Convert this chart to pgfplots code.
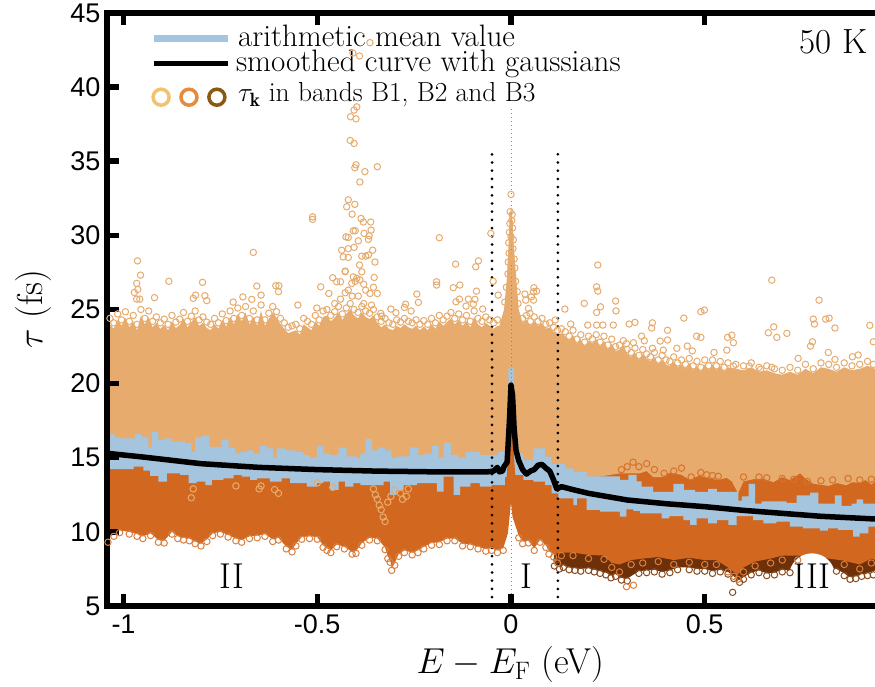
\RequirePackage{fix-cm}
\documentclass[border=0pt]{standalone}
\usepackage{fontspec}
\usepackage{pgfplots}
\pgfplotsset{compat=1.18}
\newfontfamily\helv{Liberation Sans}
\definecolor{bone}{HTML}{E6AB6D}
\definecolor{btwo}{HTML}{D26820}
\definecolor{bthree}{HTML}{6E3008}
\definecolor{cthree}{HTML}{8A4A1C}
\definecolor{meanblue}{HTML}{A5C4DE}
\definecolor{lgone}{HTML}{F0C46E}
\definecolor{lgtwo}{HTML}{E68A3E}
\definecolor{lgthree}{HTML}{8A5A14}
\newcommand{\lab}{\fontsize{31}{33}\selectfont}
\begin{document}
\begin{tikzpicture}
\path[use as bounding box] (-107pt,-81pt) rectangle (768pt,606pt);
\begin{axis}[
  at={(0pt,0pt)},anchor=south west,
  scale only axis,width=768pt,height=593pt,
  xmin=-1.0426,xmax=0.9394,ymin=5,ymax=45,
  axis x line=box,axis y line=left,
  axis line style={-,line width=6pt,line cap=rect},
  axis on top,
  tick align=inside,
  tick style={black,line width=5.5pt},
  major tick length=12pt,
  xtick={-1,-0.5,0,0.5},xticklabels={-1,-0.5,0,0.5},
  ytick={5,10,15,20,25,30,35,40,45},yticklabels={5,10,15,20,25,30,35,40,45},
  tick label style={font=\helv\fontsize{27}{29}\selectfont},
  xticklabel style={yshift=-5pt},
  yticklabel style={xshift=-3pt},
  xlabel={$E-E_{\mathrm{F}}$ (eV)},
  ylabel={$\tau$ (fs)},
  xlabel style={at={(axis description cs:0.525,-0.0995)},anchor=center,font=\fontsize{36}{38}\selectfont},
  ylabel style={at={(axis description cs:-0.096,0.5)},anchor=center,font=\fontsize{36}{38}\selectfont},
  every axis plot/.append style={forget plot},
]
% B3 band
\addplot[fill=bthree,draw=none] table {
0.11 10
0.9394 10
0.9394 7.4
0.92 7.2
0.905 7.15
0.89 7.0
0.875 6.95
0.86 7.2
0.84 7.5
0.80 7.6
0.76 7.65
0.72 7.4
0.70 7.45
0.68 7.25
0.66 7.2
0.64 7.4
0.62 7.25
0.60 6.95
0.59 6.75
0.575 7.0
0.56 7.3
0.54 7.45
0.52 7.35
0.5 7.5
0.48 7.5
0.46 7.6
0.43 7.6
0.41 7.4
0.39 7.3
0.37 7.45
0.35 7.4
0.33 7.35
0.3 6.85
0.285 6.9
0.27 7.15
0.258 7.05
0.245 7.25
0.23 7.35
0.215 7.45
0.2 7.55
0.18 7.5
0.165 7.55
0.15 7.6
0.135 7.75
0.125 7.65
0.112 7.85
} -- cycle;
\addplot[only marks,mark=o,mark size=3.2pt,mark options={draw=cthree,line width=1pt}] table {
0.112 7.7
0.118 8.1
0.125 7.5
0.135 7.6
0.15 7.45
0.165 7.4
0.18 7.35
0.2 7.4
0.215 7.3
0.23 7.2
0.245 7.1
0.258 6.9
0.27 7.0
0.285 6.75
0.3 6.7
0.33 7.2
0.35 7.25
0.37 7.3
0.39 7.15
0.41 7.25
0.43 7.45
0.46 7.45
0.48 7.35
0.5 7.35
0.52 7.2
0.54 7.3
0.56 7.15
0.575 6.85
0.59 6.6
0.60 6.8
0.62 7.1
0.64 7.25
0.66 7.05
0.68 7.1
0.70 7.3
0.72 7.25
0.84 7.35
0.86 7.05
0.875 6.8
0.89 6.85
0.905 7.0
0.92 7.05
0.935 7.1
0.572 5.92
};
% B2 band
\addplot[fill=btwo,draw=none] table {
-1.0426 16
0.9394 16
0.9394 8.1
0.93 8.2
0.90 7.8
0.86 8.05
0.82 8.2
0.78 8.3
0.74 8.4
0.70 8.4
0.67 8.2
0.63 8.0
0.60 7.6
0.585 7.1
0.575 7.3
0.56 7.6
0.53 8.1
0.50 8.1
0.46 8.25
0.42 8.1
0.38 8.3
0.34 8.2
0.31 8.1
0.28 7.8
0.26 7.9
0.24 8.4
0.2 8.45
0.16 8.6
0.13 8.6
0.11 8.5
0.098 8.7
0.09 9.1
0.075 9.45
0.06 8.9
0.045 9.4
0.03 9.35
0.02 9.75
0.013 10.3
0.004 11.0
0 12
-0.003 11.2
-0.008 9.9
-0.02 8.9
-0.035 8.75
-0.05 8.9
-0.065 8.85
-0.085 9.0
-0.105 9.15
-0.125 9.2
-0.145 9.55
-0.165 9.55
-0.185 9.3
-0.205 9.25
-0.225 9.0
-0.24 8.75
-0.255 8.6
-0.275 8.75
-0.29 8.5
-0.30 7.9
-0.308 7.55
-0.312 8.1
-0.318 8.35
-0.325 8.95
-0.345 9.55
-0.365 9.6
-0.385 9.25
-0.40 8.7
-0.41 8.65
-0.43 9.0
-0.45 9.15
-0.465 8.75
-0.475 8.9
-0.485 9.1
-0.50 9.65
-0.52 9.7
-0.54 9.65
-0.555 9.2
-0.565 8.8
-0.58 9.0
-0.60 9.6
-0.615 9.5
-0.635 9.85
-0.655 9.75
-0.675 9.7
-0.695 9.45
-0.71 9.55
-0.73 9.8
-0.75 10
-0.77 9.9
-0.785 9.5
-0.80 9.2
-0.815 9.35
-0.83 9.55
-0.845 9.6
-0.86 9.7
-0.875 10
-0.895 9.4
-0.91 9.45
-0.93 9.9
-0.95 9.7
-0.965 9.85
-0.985 10
-1.01 10.1
-1.025 9.85
-1.0426 9.45
} -- cycle;
\addplot[only marks,mark=o,mark size=3.2pt,mark options={draw=btwo!85!white,line width=1pt}] table {
-1.04 9.3
-1.025 9.7
-1.01 9.95
-0.985 9.85
-0.965 9.7
-0.95 9.55
-0.93 9.75
-0.91 9.3
-0.895 9.25
-0.875 9.85
-0.86 9.55
-0.845 9.45
-0.83 9.4
-0.815 9.2
-0.80 9.05
-0.785 9.35
-0.77 9.75
-0.75 9.85
-0.73 9.65
-0.71 9.4
-0.695 9.3
-0.675 9.55
-0.655 9.6
-0.635 9.7
-0.615 9.35
-0.60 9.45
-0.58 8.85
-0.565 8.65
-0.555 9.05
-0.54 9.5
-0.52 9.55
-0.50 9.5
-0.485 8.95
-0.475 8.75
-0.465 8.6
-0.45 9.0
-0.43 8.85
-0.41 8.5
-0.40 8.55
-0.385 9.1
-0.365 9.45
-0.345 9.4
-0.325 8.8
-0.318 8.2
-0.312 7.95
-0.308 7.4
-0.30 7.75
-0.29 8.35
-0.275 8.6
-0.255 8.45
-0.24 8.6
-0.225 8.85
-0.205 9.1
-0.185 9.15
-0.165 9.4
-0.145 9.4
-0.125 9.05
-0.105 9.0
-0.085 8.85
-0.065 8.7
-0.05 8.75
-0.035 8.6
-0.02 8.75
0.02 9.6
0.03 9.2
0.045 9.25
0.06 8.75
0.075 9.3
0.09 8.95
0.098 8.5
0.11 8.3
0.12 7.9
0.13 8.4
0.16 8.4
0.2 8.2
0.24 8.15
0.26 7.6
0.28 7.3
0.298 6.3
0.316 6.4
0.31 7.8
0.34 7.9
0.38 8.0
0.42 7.8
0.46 7.95
0.50 7.8
0.53 7.8
0.56 7.3
0.575 7.0
0.585 6.8
0.60 7.3
0.63 7.7
0.67 7.9
0.70 8.1
0.74 8.1
0.86 7.8
0.90 7.5
0.93 7.9
};
% B1 band
\addplot[fill=bone,draw=none] table {
-1.0426 23.8
-1.035 24.0
-1.025 23.7
-1.015 24.3
-1.005 23.9
-0.995 24.45
-0.985 23.8
-0.975 24.2
-0.965 23.6
-0.955 24.6
-0.945 24.0
-0.935 24.5
-0.925 23.8
-0.915 24.1
-0.905 23.7
-0.895 23.95
-0.885 23.6
-0.875 24.2
-0.865 23.75
-0.855 23.95
-0.845 24.4
-0.835 23.8
-0.825 24.15
-0.815 24.5
-0.805 23.9
-0.795 24.1
-0.785 23.75
-0.775 23.6
-0.765 24.0
-0.755 23.7
-0.745 24.3
-0.735 23.85
-0.725 24.5
-0.715 24.0
-0.705 24.7
-0.695 24.2
-0.685 24.8
-0.675 24.0
-0.665 24.5
-0.655 23.9
-0.645 24.9
-0.635 23.9
-0.625 24.35
-0.615 24.8
-0.605 24.45
-0.595 24.0
-0.585 23.7
-0.575 23.4
-0.565 23.5
-0.555 23.6
-0.545 23.3
-0.535 24.0
-0.525 23.8
-0.515 23.6
-0.505 24.2
-0.495 23.9
-0.485 24.5
-0.475 24.6
-0.465 24.2
-0.455 24.45
-0.445 24.8
-0.435 24.3
-0.425 24.7
-0.415 25.0
-0.405 24.6
-0.395 24.4
-0.385 24.8
-0.375 24.5
-0.365 24.35
-0.355 24.6
-0.345 24.1
-0.335 23.8
-0.325 24.0
-0.315 23.7
-0.305 23.6
-0.295 23.9
-0.285 23.75
-0.275 24.0
-0.265 23.8
-0.255 23.7
-0.245 23.9
-0.235 23.6
-0.225 23.85
-0.215 23.6
-0.205 24.0
-0.195 23.7
-0.185 24.2
-0.175 23.9
-0.165 24.15
-0.155 24.4
-0.145 24.0
-0.135 24.3
-0.125 23.9
-0.115 24.2
-0.105 23.8
-0.095 24.5
-0.085 24.0
-0.075 23.8
-0.065 24.1
-0.055 23.9
-0.045 23.7
-0.035 23.9
-0.03 23.9
-0.018 25
-0.011 27
-0.007 29
-0.004 31
0 32
0.004 31
0.008 29
0.014 27
0.02 25
0.03 24.1
0.04 24.3
0.05 23.9
0.06 24.2
0.07 23.9
0.08 24.1
0.09 23.7
0.10 23.8
0.11 23.5
0.12 23.3
0.13 23.4
0.14 23.2
0.15 22.9
0.16 23.3
0.17 22.7
0.18 23.0
0.19 22.5
0.20 22.9
0.21 22.7
0.22 23.0
0.23 22.5
0.24 22.9
0.25 22.3
0.26 22.7
0.27 22.2
0.28 22.3
0.29 22.6
0.30 22.0
0.31 21.8
0.32 22.1
0.33 21.6
0.34 22.0
0.35 21.7
0.36 21.5
0.37 21.8
0.38 21.3
0.39 21.6
0.40 21.3
0.41 21.2
0.42 21.5
0.43 21.1
0.44 21.3
0.45 21.0
0.46 21.4
0.47 20.9
0.48 21.2
0.49 20.8
0.50 21.3
0.51 20.9
0.52 21.3
0.53 20.9
0.54 21.2
0.55 20.8
0.56 21.1
0.58 21.0
0.60 20.9
0.62 21.1
0.64 20.8
0.66 20.9
0.68 20.7
0.70 20.6
0.72 20.8
0.74 20.6
0.76 21.0
0.78 20.7
0.80 21.1
0.82 21.0
0.84 20.8
0.86 21.1
0.88 20.9
0.90 21.0
0.92 21.2
0.9394 21.0
0.9394 13.4
0.93 13.2
0.915 13.5
0.90 13.3
0.881 13.35
0.865 13.15
0.84 13.3
0.82 13.1
0.78 13.25
0.76 13.6
0.746 13.95
0.72 13.5
0.70 13.7
0.677 13.35
0.65 13.6
0.625 13.55
0.60 13.4
0.586 12.6
0.57 13.4
0.557 13.65
0.535 13.5
0.505 13.65
0.485 13.8
0.462 13.5
0.44 13.85
0.41 14
0.39 13.7
0.367 13.7
0.35 14.1
0.333 13.95
0.281 13.95
0.2 13.6
0.12 14
0.05 14
-0.5 14.5
-1.0426 15
} -- cycle;
% dark-orange circles over the lower edge of the B1 band
\addplot[only marks,mark=o,mark size=3.2pt,mark options={draw=btwo!85!bone,line width=1pt}] table {
0.285 14.2
0.3 14.4
0.315 14.7
0.33 14.4
0.35 14.6
0.37 14.2
0.395 13.95
0.42 14.1
0.44 14.3
0.465 13.7
0.49 14
0.505 13.85
0.52 13.8
0.535 13.75
0.6 13.7
0.64 13.7
0.66 13.65
0.70 13.6
0.73 13.55
0.765 13.4
0.80 13.45
0.83 13.5
0.87 13.6
0.90 13.5
0.93 13.55
};
% B1 circles
\addplot[only marks,mark=o,mark size=3.2pt,mark options={draw=bone,line width=1pt}] table {
-0.964 28.28
-0.956 27.32
-0.966 26.76
-0.972 26.15
-0.963 26.35
-0.966 25.7
-0.958 25.7
-0.92 25.8
-0.883 26.9
-0.796 26.83
-0.665 28.85
-0.656 26.58
-0.607 26.6
-0.599 26.6
-0.6 26.2
-0.82 25.75
-0.814 25.97
-0.79 25.93
-0.785 25.6
-0.717 25.5
-0.692 25.85
-0.669 25.68
-0.645 25.97
-0.55 25.3
-0.491 26.53
-0.47 26.08
-0.501 25.1
-0.428 27.55
-0.364 43
-0.391 42.1
-0.408 42.3
-0.398 38.67
-0.405 38.45
-0.414 38
-0.4 37.86
-0.415 36.4
-0.405 36.2
-0.4 34.76
-0.403 34.56
-0.377 34.3
-0.345 34.63
-0.39 33.6
-0.512 31.25
-0.512 31.08
-0.42 32.4
-0.424 31.93
-0.403 32.09
-0.41 31.43
-0.387 31.14
-0.381 30.9
-0.362 30.9
-0.407 30.31
-0.402 30.31
-0.361 30.35
-0.379 30.13
-0.366 29.97
-0.368 29.73
-0.426 29.9
-0.42 29.86
-0.394 29.63
-0.405 29.19
-0.437 29
-0.357 29
-0.42 29.1
-0.433 28.55
-0.42 28.51
-0.385 28.6
-0.368 28.67
-0.351 28.2
-0.375 28.6
-0.391 28
-0.385 27.54
-0.428 27.59
-0.353 27.16
-0.46 27.14
-0.45 26.87
-0.44 26.87
-0.407 27.2
-0.398 27.1
-0.411 26.76
-0.402 26.9
-0.39 27
-0.38 26.7
-0.428 26.13
-0.42 26.3
-0.394 25.9
-0.364 26.08
-0.345 26.08
-0.355 26.5
-0.375 26.3
-0.41 25.9
-0.44 25.7
-0.455 25.4
-0.38 25.4
-0.36 25.3
-0.185 29.84
-0.143 28.06
-0.091 27.88
-0.084 28.28
-0.192 26.87
-0.192 26.65
-0.149 26.47
-0.132 26.65
-0.089 26.24
-0.243 26.04
-0.052 30.13
-0.046 26.9
-0.033 25.97
0 32.76
-0.002 31.6
0.003 31.4
0.002 31
-0.003 30.8
0.004 30.5
-0.004 30.2
0 29.9
0.006 29.7
-0.006 29.5
0.005 29.1
-0.005 28.8
0.008 28.4
-0.007 28.2
0.01 27.8
-0.008 27.4
0.012 26.9
-0.012 26.5
0.016 26.2
-0.016 25.5
0.018 25.4
-0.239 25.48
-0.272 25.36
-0.275 25.14
-0.31 25.03
-0.297 24.78
-0.258 24.9
-0.336 24.74
-0.334 24.55
-0.142 25.52
-0.133 25.7
-0.11 25.7
-0.093 25.68
-0.116 25.23
-0.097 25.36
-0.073 25.03
0.059 26.47
0.066 26.24
0.058 26.19
0.036 26.04
0.053 25.86
0.038 25.63
0.058 25.63
0.045 25.07
0.049 24.74
0.139 25.03
0.189 25.41
0.224 28
0.221 26.53
0.224 26.24
0.231 25.18
0.221 24.8
0.27 25.57
0.271 24.9
0.114 24.29
0.154 24.02
0.198 23.95
0.221 23.95
0.237 23.95
0.264 23.95
0.673 26.98
0.795 25.63
0.499 24.96
0.49 24.85
0.446 24.42
0.305 24.02
0.32 24.13
0.365 24.1
0.363 23.75
0.404 23.6
0.337 23.2
0.344 22.89
0.298 22.7
0.316 22.76
0.385 22.87
0.404 22.94
0.479 23.2
0.49 23.12
0.559 23.12
0.57 23.27
0.574 22.76
0.678 23.83
0.664 23.43
0.686 23.12
0.712 23.39
0.78 24.35
0.783 24.02
0.812 24.35
0.821 24.42
0.836 23.75
0.778 22.82
0.773 22.53
0.926 23.93
0.935 22.82
0.819 22.1
0.896 21.93
0.881 21.81
0.836 21.63
0.741 21.7
0.428 22.38
0.455 22.53
0.468 22.21
0.524 22.1
0.557 22.26
0.393 22.26
0.365 22.38
0.673 21.1
0.574 21.18
0.615 21.18
0.644 20.96
-1.035 24.4
-1.025 24.1
-1.015 24.7
-1.005 24.3
-0.995 24.85
-0.985 24.2
-0.975 24.6
-0.965 24.0
-0.955 25.0
-0.945 24.4
-0.935 24.9
-0.925 24.2
-0.915 24.5
-0.905 24.1
-0.895 24.35
-0.885 24.0
-0.875 24.6
-0.865 24.15
-0.855 24.35
-0.845 24.8
-0.835 24.2
-0.825 24.55
-0.815 24.9
-0.805 24.3
-0.795 24.5
-0.785 24.15
-0.775 24.0
-0.765 24.4
-0.755 24.1
-0.745 24.7
-0.735 24.25
-0.725 24.9
-0.715 24.4
-0.705 25.1
-0.695 24.6
-0.685 25.2
-0.675 24.4
-0.665 24.9
-0.655 24.3
-0.645 25.3
-0.635 24.3
-0.625 24.75
-0.615 25.2
-0.605 24.85
-0.595 24.4
-0.585 24.1
-0.575 23.8
-0.565 23.9
-0.555 24.0
-0.545 23.7
-0.535 24.4
-0.525 24.2
-0.515 24.0
-0.505 24.6
-0.495 24.3
-0.485 24.9
-0.475 25.0
-0.465 24.6
-0.455 24.85
-0.445 25.2
-0.435 24.7
-0.425 25.1
-0.415 25.4
-0.405 25.0
-0.395 24.8
-0.385 25.2
-0.375 24.9
-0.365 24.75
-0.355 25.0
-0.345 24.5
-0.335 24.2
-0.325 24.4
-0.315 24.1
-0.305 24.0
-0.295 24.3
-0.285 24.15
-0.275 24.4
-0.265 24.2
-0.255 24.1
-0.245 24.3
-0.235 24.0
-0.225 24.25
-0.215 24.0
-0.205 24.4
-0.195 24.1
-0.185 24.6
-0.175 24.3
-0.165 24.55
-0.155 24.8
-0.145 24.4
-0.135 24.7
-0.125 24.3
-0.115 24.6
-0.105 24.2
-0.095 24.9
-0.085 24.4
-0.075 24.2
-0.065 24.5
-0.055 24.3
-0.045 24.1
-0.035 24.3
0.03 24.4
0.04 24.6
0.05 24.2
0.06 24.5
0.07 24.2
0.08 24.4
0.09 24.0
0.10 24.1
0.11 23.8
0.12 23.6
0.13 23.7
0.14 23.5
0.15 23.2
0.16 23.6
0.17 23.0
0.18 23.3
0.19 22.8
0.20 23.2
0.21 23.0
0.22 23.3
0.23 22.8
0.24 23.2
0.25 22.6
0.26 23.0
0.27 22.5
0.28 22.6
0.29 22.9
0.30 22.3
0.31 22.1
0.32 22.4
0.33 21.9
0.34 22.3
0.35 22.0
0.36 21.8
0.37 22.1
0.38 21.6
0.39 21.9
0.40 21.6
0.41 21.5
0.42 21.8
0.43 21.4
0.44 21.6
0.45 21.3
0.46 21.7
0.47 21.2
0.48 21.5
0.49 21.1
0.50 21.6
0.51 21.2
0.52 21.6
0.53 21.2
0.54 21.5
0.55 21.1
0.56 21.4
0.58 21.3
0.60 21.2
0.62 21.4
0.64 21.1
0.66 21.2
0.68 21.0
0.70 20.9
0.72 21.1
0.74 20.9
0.76 21.3
0.78 21.0
0.80 21.4
0.82 21.3
0.84 21.1
0.86 21.4
0.88 21.2
0.90 21.3
0.92 21.5
0.935 21.3
-0.65 12.9
-0.645 13.1
-0.355 12.9
-0.35 12.5
-0.345 12.2
-0.34 11.8
-0.335 11.5
-0.33 11.0
-0.325 10.7
-0.318 12.0
-0.31 12.4
-0.30 12.8
-0.285 12.6
-0.28 12.2
-0.27 12.4
-0.265 12.9
-0.82 12.9
-0.825 12.3
-0.50 13.3
-0.46 13.0
-0.71 13.1
-0.61 12.85
-0.6 12.6
};
% arithmetic mean
\addplot[const plot,fill=meanblue,draw=none] table {
-1.0426 16.58
-1.022 16.37
-1.005 16.3
-0.970 16.6
-0.953 16.42
-0.936 15.7
-0.927 16.77
-0.910 16.2
-0.893 16.3
-0.875 16.1
-0.841 16.0
-0.824 15.4
-0.815 16.37
-0.798 16.46
-0.778 15.74
-0.747 16.24
-0.729 15.7
-0.712 15.3
-0.699 15.4
-0.682 15.5
-0.665 15.3
-0.648 15.8
-0.630 15.63
-0.613 15.0
-0.605 15.63
-0.583 15.5
-0.558 15.4
-0.536 15.2
-0.519 15.0
-0.501 15.8
-0.484 15.3
-0.467 15.2
-0.445 15.7
-0.424 15.1
-0.398 14.95
-0.389 15.3
-0.376 16.25
-0.359 15.5
-0.342 15.7
-0.325 15.5
-0.308 15.0
-0.291 15.1
-0.260 15.7
-0.239 15.2
-0.222 15.3
-0.204 15.8
-0.187 15.0
-0.174 16.0
-0.155 15.2
-0.136 15.0
-0.118 15.4
-0.08 15.2
-0.05 15.2
-0.033 15.4
-0.016 15.6
-0.007 21.03
0.008 16.2
0.019 15.3
0.032 14.85
0.058 15.64
0.088 15.07
0.105 14.58
0.14 14.29
0.161 14.06
0.195 13.75
0.281 13.5
0.303 13.84
0.324 13.4
0.337 13.05
0.367 12.7
0.419 13.23
0.446 12.83
0.475 12.7
0.509 12.9
0.531 12.7
0.587 12.1
0.596 12.4
0.613 13.23
0.630 11.9
0.647 12.05
0.711 11.95
0.737 12.47
0.772 12.65
0.793 11.9
0.836 12.47
0.853 11.75
0.879 11.9
0.892 12.2
0.909 11.9
0.9394 11.9
0.9394 10.35
0.922 9.9
0.90 9.68
0.883 10.13
0.844 10.24
0.818 10.08
0.797 10.24
0.754 10.35
0.72 10.69
0.685 10.58
0.651 10.8
0.625 11.07
0.582 10.47
0.561 10.8
0.531 10.58
0.509 10.91
0.479 10.47
0.462 10.8
0.445 11.07
0.409 10.91
0.389 11.25
0.333 11.41
0.316 11.52
0.298 11.03
0.281 11.36
0.23 11.48
0.195 12.26
0.17 11.81
0.161 12.26
0.122 12.6
0.105 13.16
0.088 13.39
0.058 13.5
0.032 13.84
0.008 13.7
-0.016 13.16
-0.05 13.05
-0.08 13.28
-0.105 13.05
-0.131 12.49
-0.148 13.73
-0.174 12.71
-0.191 13.28
-0.243 13.16
-0.277 12.83
-0.295 12.49
-0.312 13.39
-0.329 13.16
-0.389 13.28
-0.407 13.05
-0.428 13.39
-0.445 12.83
-0.467 13.39
-0.484 13.28
-0.501 13.05
-0.527 13.28
-0.570 13.61
-0.592 13.39
-0.622 13.61
-0.656 13.5
-0.673 13.73
-0.695 13.84
-0.716 13.61
-0.742 13.5
-0.772 13.16
-0.789 13.39
-0.811 13.28
-0.832 13.84
-0.854 13.95
-0.888 13.39
-0.910 13.77
-0.931 14.13
-0.949 14.4
-0.974 14.24
-1.0426 14.24
} -- cycle;
% sliver of B2 seen inside the mean peak
\addplot[fill=btwo,draw=none] table {
-0.012 13.3
0 18.4
0.012 13.3
} -- cycle;
% dotted lines
\addplot[lightgray!70!black,line width=0.8pt,dash pattern=on 1pt off 3pt] coordinates {(0,5) (0,38.5)};
\addplot[black,line width=3pt,line cap=round,dash pattern=on 0pt off 8.2pt] coordinates {(-0.049,5.6) (-0.049,35.6)};
\addplot[black,line width=3pt,line cap=round,dash pattern=on 0pt off 8.2pt] coordinates {(0.121,5.6) (0.121,35.6)};
% smoothed curve
\addplot[black,line width=5.5pt,line join=round] table {
-1.0426 15.3
-0.95 15.05
-0.8 14.6
-0.65 14.35
-0.5 14.2
-0.35 14.1
-0.2 14.05
-0.06 14.05
-0.045 14.1
-0.035 14.35
-0.03 14.05
-0.022 14.1
-0.018 14.4
-0.01 14.7
-0.004 17.5
0 19.9
0.004 19.2
0.008 17
0.013 15.5
0.02 14.8
0.03 14.2
0.04 13.9
0.05 14.1
0.06 14.2
0.07 14.5
0.08 14.55
0.09 14.3
0.10 14.1
0.11 13.5
0.118 12.9
0.13 13.05
0.16 12.85
0.2 12.6
0.3 12.15
0.4 11.9
0.5 11.7
0.6 11.45
0.7 11.25
0.8 11.05
0.9394 10.87
};
% key
\addplot[meanblue,line width=7pt] coordinates {(-0.921,43.3) (-0.73,43.3)};
\addplot[black,line width=5pt] coordinates {(-0.921,41.62) (-0.73,41.62)};
\addplot[only marks,mark=o,mark size=8pt,mark options={draw=lgone,line width=3.5pt}] coordinates {(-0.903,39.32)};
\addplot[only marks,mark=o,mark size=8pt,mark options={draw=lgtwo,line width=3.5pt}] coordinates {(-0.831,39.32)};
\addplot[only marks,mark=o,mark size=8pt,mark options={draw=lgthree,line width=3.5pt}] coordinates {(-0.759,39.32)};
\node[anchor=base west,inner sep=0pt,text height=18pt,text depth=0pt,font=\lab] at (axis cs:-0.7045,42.76) {arithmetic mean value};
\node[anchor=base west,inner sep=0pt,text height=18pt,text depth=0pt,font=\lab] at (axis cs:-0.71,41.07) {smoothed curve with gaussians};
\node[anchor=base west,inner sep=0pt,font=\fontsize{27.5}{29}\selectfont] at (axis cs:-0.7045,39.0) {$\tau_{\mathbf{k}}$ in bands B1, B2 and B3};
\node[anchor=base east,inner sep=0pt,font=\fontsize{35}{37}\selectfont] at (axis cs:0.921,42.3) {50 K};
\node[anchor=base,inner sep=0pt,font=\fontsize{36}{38}\selectfont] at (axis cs:0.041,6.2) {I};
\node[anchor=base,inner sep=0pt,font=\fontsize{36}{38}\selectfont] at (axis cs:-0.72,6.2) {II};
\node[circle,fill=white,minimum size=46pt,inner sep=0pt] at (axis cs:0.777,7.0) {};
\node[anchor=base,inner sep=0pt,font=\fontsize{36}{38}\selectfont] at (axis cs:0.777,6.2) {III};
\end{axis}
\end{tikzpicture}
\end{document}
